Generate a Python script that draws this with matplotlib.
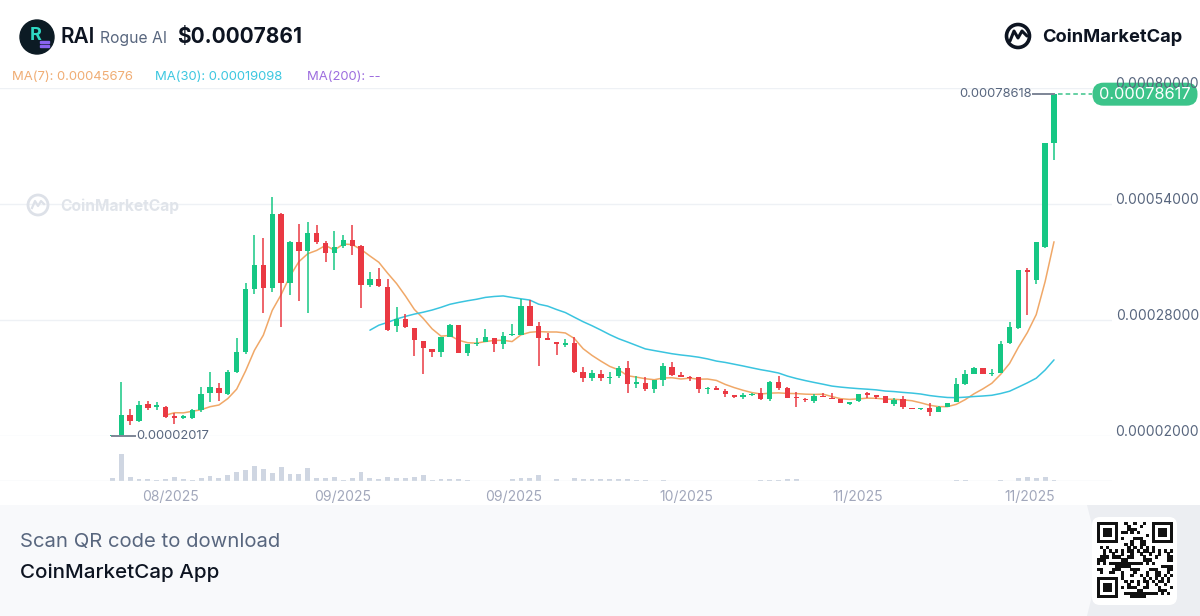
import numpy as np
import pandas as pd
import matplotlib
matplotlib.use("Agg")
import matplotlib.pyplot as plt
from matplotlib.patches import Rectangle, FancyBboxPatch, Circle, Polygon

plt.rcParams['font.family'] = ['Inter', 'DejaVu Sans']

# ---------------- data (daily candles, price in USD) ----------------
opens = [
    2.03e-5, 2.10e-5, 6.71e-5, 5.36e-5, 9.17e-5, 8.50e-5, 8.50e-5, 6.48e-5, 6.03e-5, 6.03e-5,
    7.83e-5, 11.64e-5, 12.76e-5, 11.41e-5, 16.34e-5, 20.83e-5, 34.95e-5, 40.33e-5, 35.17e-5, 51.76e-5,
    36.29e-5, 45.48e-5, 43.47e-5, 47.50e-5, 45.26e-5, 43.02e-5, 44.59e-5, 45.93e-5, 44.59e-5, 35.84e-5,
    37.19e-5, 35.40e-5, 26.66e-5, 28.22e-5, 26.21e-5, 23.29e-5, 21.50e-5, 20.83e-5, 24.19e-5, 26.88e-5,
    20.60e-5, 22.62e-5, 23.07e-5, 23.97e-5, 22.62e-5, 24.64e-5, 24.64e-5, 31.14e-5, 26.66e-5, 23.97e-5,
    23.07e-5, 22.40e-5, 22.85e-5, 16.34e-5, 15.00e-5, 15.90e-5, 15.00e-5, 15.45e-5, 17.24e-5, 13.66e-5,
    13.88e-5, 12.53e-5, 14.55e-5, 17.47e-5, 15.67e-5, 15.22e-5, 15.22e-5, 12.53e-5, 12.76e-5, 12.09e-5,
    11.19e-5, 10.85e-5, 11.19e-5, 11.64e-5, 10.29e-5, 14.10e-5, 12.76e-5, 10.74e-5, 10.29e-5, 9.84e-5,
    10.97e-5, 10.52e-5, 10.29e-5, 9.28e-5, 9.84e-5, 11.64e-5, 11.19e-5, 10.97e-5, 9.17e-5, 10.29e-5,
    8.28e-5, 8.05e-5, 8.28e-5, 7.38e-5, 8.50e-5, 9.62e-5, 13.66e-5, 15.90e-5, 17.24e-5, 15.90e-5,
    16.12e-5, 22.85e-5, 26.21e-5, 39.21e-5, 36.97e-5, 44.36e-5, 67.67e-5,
]
highs = [
    2.12e-5, 14.10e-5, 8.05e-5, 9.84e-5, 9.84e-5, 9.62e-5, 8.72e-5, 7.16e-5, 6.71e-5, 8.05e-5,
    12.98e-5, 16.34e-5, 13.88e-5, 16.79e-5, 23.97e-5, 36.29e-5, 47.05e-5, 46.38e-5, 55.57e-5, 51.90e-5,
    45.60e-5, 49.52e-5, 49.97e-5, 49.29e-5, 45.71e-5, 47.95e-5, 47.05e-5, 49.29e-5, 44.81e-5, 38.76e-5,
    39.66e-5, 37.19e-5, 30.91e-5, 29.35e-5, 26.21e-5, 23.29e-5, 21.50e-5, 24.19e-5, 27.10e-5, 26.88e-5,
    22.62e-5, 23.97e-5, 25.98e-5, 23.97e-5, 25.31e-5, 27.10e-5, 32.71e-5, 32.48e-5, 27.55e-5, 25.09e-5,
    23.07e-5, 23.74e-5, 24.19e-5, 17.47e-5, 16.79e-5, 16.79e-5, 16.34e-5, 17.69e-5, 18.81e-5, 15.45e-5,
    15.22e-5, 14.55e-5, 18.36e-5, 18.59e-5, 16.34e-5, 15.45e-5, 15.22e-5, 12.98e-5, 13.21e-5, 12.53e-5,
    11.19e-5, 11.64e-5, 11.64e-5, 12.76e-5, 14.33e-5, 15.45e-5, 12.98e-5, 11.86e-5, 10.52e-5, 11.41e-5,
    11.64e-5, 11.64e-5, 10.29e-5, 9.62e-5, 11.41e-5, 11.86e-5, 11.19e-5, 10.97e-5, 10.52e-5, 10.97e-5,
    8.28e-5, 8.28e-5, 9.40e-5, 8.72e-5, 9.40e-5, 15.00e-5, 16.79e-5, 17.47e-5, 17.24e-5, 17.02e-5,
    23.29e-5, 27.55e-5, 39.21e-5, 39.66e-5, 45.48e-5, 67.67e-5, 78.618e-5,
]
lows = [
    2.017e-5, 2.05e-5, 4.47e-5, 5.14e-5, 7.83e-5, 7.83e-5, 6.03e-5, 4.69e-5, 5.92e-5, 5.92e-5,
    7.38e-5, 9.62e-5, 9.84e-5, 11.19e-5, 16.10e-5, 20.38e-5, 33.83e-5, 29.57e-5, 34.28e-5, 26.43e-5,
    33.60e-5, 32.26e-5, 29.57e-5, 45.03e-5, 41.00e-5, 39.21e-5, 44.14e-5, 42.57e-5, 30.69e-5, 35.40e-5,
    35.50e-5, 25.53e-5, 25.31e-5, 26.21e-5, 19.93e-5, 15.90e-5, 19.71e-5, 19.71e-5, 24.19e-5, 20.60e-5,
    19.93e-5, 22.17e-5, 23.07e-5, 20.83e-5, 21.50e-5, 24.50e-5, 24.64e-5, 26.66e-5, 17.69e-5, 23.52e-5,
    20.16e-5, 21.95e-5, 16.12e-5, 14.10e-5, 14.33e-5, 14.33e-5, 13.66e-5, 15.00e-5, 11.64e-5, 12.76e-5,
    12.09e-5, 11.64e-5, 13.21e-5, 15.45e-5, 15.22e-5, 14.33e-5, 11.64e-5, 11.41e-5, 12.31e-5, 10.74e-5,
    10.52e-5, 10.29e-5, 10.97e-5, 10.07e-5, 9.84e-5, 12.31e-5, 10.52e-5, 8.50e-5, 9.62e-5, 9.40e-5,
    10.74e-5, 10.29e-5, 9.40e-5, 8.95e-5, 9.62e-5, 10.52e-5, 10.29e-5, 9.40e-5, 8.72e-5, 8.05e-5,
    7.94e-5, 7.83e-5, 6.48e-5, 7.38e-5, 8.50e-5, 9.62e-5, 13.43e-5, 15.90e-5, 15.90e-5, 15.45e-5,
    16.12e-5, 22.62e-5, 25.98e-5, 29.12e-5, 36.07e-5, 44.14e-5, 63.86e-5,
]
closes = [
    2.10e-5, 6.71e-5, 5.36e-5, 8.95e-5, 8.28e-5, 8.95e-5, 6.26e-5, 6.03e-5, 6.48e-5, 7.83e-5,
    11.41e-5, 12.98e-5, 11.64e-5, 16.34e-5, 20.83e-5, 34.95e-5, 40.33e-5, 35.17e-5, 51.76e-5, 36.29e-5,
    45.48e-5, 43.47e-5, 47.50e-5, 45.48e-5, 43.02e-5, 44.36e-5, 45.93e-5, 44.59e-5, 35.84e-5, 37.19e-5,
    35.62e-5, 25.76e-5, 28.22e-5, 26.43e-5, 23.52e-5, 21.72e-5, 20.83e-5, 24.19e-5, 26.88e-5, 20.60e-5,
    22.62e-5, 22.85e-5, 24.19e-5, 22.62e-5, 24.41e-5, 24.86e-5, 31.14e-5, 26.66e-5, 23.97e-5, 23.52e-5,
    22.62e-5, 22.85e-5, 16.34e-5, 15.00e-5, 16.12e-5, 15.00e-5, 15.22e-5, 17.24e-5, 13.66e-5, 14.10e-5,
    12.53e-5, 14.55e-5, 17.69e-5, 15.67e-5, 15.22e-5, 15.00e-5, 12.53e-5, 12.76e-5, 12.31e-5, 11.41e-5,
    10.74e-5, 10.97e-5, 11.41e-5, 10.29e-5, 14.10e-5, 12.76e-5, 10.52e-5, 10.52e-5, 10.07e-5, 10.97e-5,
    10.74e-5, 10.29e-5, 9.40e-5, 9.40e-5, 11.41e-5, 11.19e-5, 10.74e-5, 9.40e-5, 10.07e-5, 8.50e-5,
    8.05e-5, 8.16e-5, 7.38e-5, 8.50e-5, 9.40e-5, 13.66e-5, 15.90e-5, 17.24e-5, 15.90e-5, 16.12e-5,
    22.62e-5, 26.43e-5, 39.21e-5, 38.76e-5, 45.48e-5, 67.67e-5, 78.617e-5,
]
volumes = [
    8, 82, 12, 7, 5, 3, 5, 13, 5, 2,
    10, 15, 10, 17, 27, 32, 45, 37, 23, 42,
    22, 22, 38, 10, 8, 12, 2, 8, 27, 8,
    5, 12, 8, 8, 13, 18, 2, 5, 5, 5,
    3, 0, 0, 0, 0, 5, 10, 8, 18, 1,
    5, 1, 10, 5, 5, 5, 5, 5, 5, 3,
    3, 0, 3, 0, 0, 0, 0, 0, 0, 0,
    0, 0, 0, 3, 3, 3, 5, 5, 0, 0,
    0, 0, 0, 0, 0, 0, 0, 0, 0, 0,
    0, 0, 0, 0, 0, 3, 2, 0, 0, 0,
    3, 0, 8, 12, 8, 13, 3,
]
date_labels = ["08/2025", "09/2025", "09/2025", "10/2025", "11/2025", "11/2025"]
date_positions = [6.5, 25.9, 45.2, 64.6, 83.9, 103.3]
grid_prices = [0.00002, 0.00028, 0.00054, 0.00080]
grid_labels = ["0.00002000", "0.00028000", "0.00054000", "0.00080000"]
ma_legend = [("MA(7): 0.00045676", "#f0ad74"),
             ("MA(30): 0.00019098", "#3cc7e0"),
             ("MA(200): --", "#9d6ddf")]
ma_legend_x = [12, 155, 307]
price_text = "$0.0007861"
last_price_text = "0.00078617"
max_text = "0.00078618"
min_text = "0.00002017"

# ---------------- style ----------------
GREEN = "#16c784"
RED = "#ea3943"
MA7_C = "#f0a868"
MA30_C = "#3ac4df"
GRID_C = "#eef1f5"
AXIS_TXT = "#58667e"
TICK_TXT = "#a1a7bb"

W, H = 1200, 616
fig = plt.figure(figsize=(W / 100, H / 100), dpi=100)
fig.patch.set_facecolor("white")


def frac(left, top, right, bottom):
    return [left / W, 1 - bottom / H, (right - left) / W, (bottom - top) / H]


# background overlay
bg = fig.add_axes([0, 0, 1, 1], zorder=0)
bg.set_xlim(0, W)
bg.set_ylim(H, 0)
bg.axis("off")

# footer
bg.add_patch(Rectangle((0, 505), W, H - 505, color="#f8f9fb", lw=0))
bg.add_patch(Polygon([(1087, 505), (W, 505), (W, H), (1087, H), (1101, 560)],
                     closed=True, color="#eceef2", lw=0))

# ---------------- price axes ----------------
n = len(closes)
x = np.arange(n)
o = np.array(opens)
h = np.array(highs)
lo = np.array(lows)
c = np.array(closes)

ax = fig.add_axes(frac(0, 88, 1112, 436), zorder=2)
ax.patch.set_alpha(0)
pitch = 8.884
xmin = -112.3 / pitch
ax.set_xlim(xmin, xmin + 1112 / pitch)
ax.set_ylim(grid_prices[0], grid_prices[-1])
ax.axis("off")

for gp in grid_prices:
    ax.axhline(gp, color=GRID_C, lw=1.0, zorder=0)

up = c >= o
cols = np.where(up, GREEN, RED)
ax.vlines(x, lo, h, colors=cols, lw=1.1, zorder=3, clip_on=False)
px_price = (grid_prices[-1] - grid_prices[0]) / 348.0
body_bottom = np.minimum(o, c)
body_h = np.maximum(np.abs(c - o), 1.2 * px_price)
ax.bar(x, body_h, bottom=body_bottom, width=0.6, color=cols, lw=0, zorder=4, clip_on=False)

s = pd.Series(c)
ma7 = s.rolling(7).mean()
ma30 = s.rolling(30).mean()
ax.plot(x, ma7, color=MA7_C, lw=1.1, zorder=2, solid_capstyle="round")
ax.plot(x, ma30, color=MA30_C, lw=1.1, zorder=2, solid_capstyle="round")

# max / min markers
imax = int(np.argmax(h))
imin = int(np.argmin(lo))
ax.plot([imax - 2.4, imax], [h[imax], h[imax]], color="#7d8596", lw=1.4, zorder=5, clip_on=False)
ax.text(imax - 2.55, h[imax], max_text, ha="right", va="center", fontsize=9.3,
        color=AXIS_TXT, zorder=5)
ax.plot([imin, imin + 2.6], [lo[imin], lo[imin]], color="#7d8596", lw=1.4, zorder=5, clip_on=False)
ax.text(imin + 2.75, lo[imin], min_text, ha="left", va="center", fontsize=9.3,
        color=AXIS_TXT, zorder=5)

# ---------------- volume axes ----------------
axv = fig.add_axes(frac(0, 450, 1112, 481), zorder=1)
axv.patch.set_alpha(0)
axv.set_xlim(ax.get_xlim())
axv.set_ylim(0, max(volumes) * 31 / 27)
axv.axis("off")
axv.bar(x, volumes, width=0.55, color="#cfd6e2", lw=0)
axv.axhline(0, color="#e8ebf0", lw=1.0)

# ---------------- top overlay (text) ----------------
top = fig.add_axes([0, 0, 1, 1], zorder=5)
top.set_xlim(0, W)
top.set_ylim(H, 0)
top.axis("off")
top.patch.set_alpha(0)


def to_px(xd, yd):
    dx, dy = ax.transData.transform((xd, yd))
    return dx, H - dy


# right price labels (sitting on their grid lines)
for gp, gl in zip(grid_prices, grid_labels):
    _, py = to_px(0, gp)
    top.text(1199, py + 3, gl, ha="right", va="bottom", fontsize=10, color=AXIS_TXT)

# last price tag + dashed line
lx, ly = to_px(n - 1, c[-1])
top.plot([lx + 4, 1092], [ly, ly], color="#3cc48a", lw=1.1, ls=(0, (3, 2)))
top.add_patch(FancyBboxPatch((1094, ly - 10), 102, 20,
                             boxstyle="round,pad=1.5,rounding_size=11",
                             fc="#3cc48a", ec="none"))
top.text(1145, ly + 0.5, last_price_text, ha="center", va="center", fontsize=11.8,
         color="white")

# date labels
for dp, dl in zip(date_positions, date_labels):
    px, _ = to_px(dp, grid_prices[0])
    top.text(px, 497, dl, ha="center", va="center", fontsize=10, color=TICK_TXT)

# MA legend
for (txt, col), mx in zip(ma_legend, ma_legend_x):
    top.text(mx, 77, txt, ha="left", va="center", fontsize=9.4, color=col)

# header: coin logo
top.add_patch(Circle((37, 37), 17, color="#0c1b24"))
top.text(35.5, 36, "R", ha="center", va="center", fontsize=13, fontweight="bold", color="#2fd9c5")
top.add_patch(Rectangle((40, 41), 9, 2.2, color="#8a63f0"))
top.add_patch(Rectangle((40, 45), 9, 2.2, color="#8a63f0"))
top.text(60, 37, "RAI", ha="left", va="center", fontsize=15, fontweight="semibold", color="#0d1421")
top.text(100, 38, "Rogue AI", ha="left", va="center", fontsize=11.3, color=AXIS_TXT)
top.text(177, 37, price_text, ha="left", va="center", fontsize=15, fontweight="bold", color="#0d1421")

# CoinMarketCap logo
top.add_patch(Circle((1018, 36), 11.5, fill=False, ec="#0d1421", lw=2.6))
top.plot([1010, 1014, 1018, 1022, 1027], [41, 31, 38, 31, 36], color="#0d1421", lw=2.2,
         solid_joinstyle="round", solid_capstyle="round")
top.text(1042, 37, "CoinMarketCap", ha="left", va="center", fontsize=13.2, fontweight="bold",
         color="#0d1421")

# watermark
top.add_patch(Circle((38, 205), 10, fill=False, ec="#dde1e8", lw=2))
top.plot([32, 35, 38, 41, 44], [208, 201, 206, 201, 204], color="#dde1e8", lw=1.6)
top.text(60, 206, "CoinMarketCap", ha="left", va="center", fontsize=11.2, fontweight="bold",
         color="#e0e4ea")

# footer text
top.text(20, 542, "Scan QR code to download", ha="left", va="center", fontsize=14.6,
         color=AXIS_TXT)
top.text(20, 573, "CoinMarketCap App", ha="left", va="center", fontsize=14.8,
         fontweight="medium", color="#0d1421")

# QR code block (decorative pattern)
top.add_patch(FancyBboxPatch((1092, 517), 85, 88, boxstyle="round,pad=0,rounding_size=8",
                             fc="white", ec="none"))
N = 25
qr = np.zeros((N, N), dtype=bool)
for i in range(N):
    for j in range(N):
        qr[i, j] = ((i * 7 + j * 13 + (i * j) % 5) % 3 == 0) ^ ((i + 2 * j) % 4 == 1)


def finder(r0, c0):
    qr[r0:r0 + 8, c0:c0 + 8] = False
    qr[r0:r0 + 7, c0:c0 + 7] = True
    qr[r0 + 1:r0 + 6, c0 + 1:c0 + 6] = False
    qr[r0 + 2:r0 + 5, c0 + 2:c0 + 5] = True


finder(0, 0)
finder(0, N - 7)
qr[0:8, N - 8] = False
finder(N - 7, 0)
qr[N - 8, 0:8] = False
cell = 76 / N
for i in range(N):
    for j in range(N):
        if qr[i, j]:
            top.add_patch(Rectangle((1097 + j * cell, 522 + i * cell), cell + 0.1, cell + 0.1,
                                    color="#111111", lw=0))

fig.savefig("out.png", dpi=100, facecolor=fig.get_facecolor())
